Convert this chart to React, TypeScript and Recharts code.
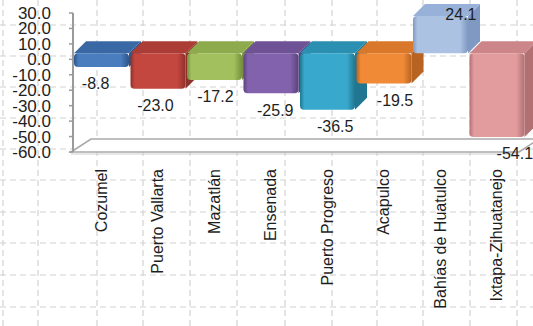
import React from "react";
import { Bar, BarChart, LabelList, XAxis, YAxis } from "recharts";

const PORTS = [
  "Cozumel",
  "Puerto Vallarta",
  "Mazatlán",
  "Ensenada",
  "Puerto Progreso",
  "Acapulco",
  "Bahías de Huatulco",
  "Ixtapa-Zihuatanejo",
];
const CHANGE = [-8.8, -23.0, -17.2, -25.9, -36.5, -19.5, 24.1, -54.1];
const Y_TICKS = [30, 20, 10, 0, -10, -20, -30, -40, -50, -60];

// front, top, side
const COLORS: [string, string, string][] = [
  ["#4a7dbd", "#3a68a4", "#2c5489"],
  ["#c4473f", "#ac3c36", "#8e302b"],
  ["#a2c15e", "#8daa4c", "#76903d"],
  ["#8262ad", "#6f5296", "#5a427c"],
  ["#38a9cc", "#2a8fb1", "#217791"],
  ["#f08a36", "#d9782a", "#b86322"],
  ["#abc2e3", "#97b1d8", "#7f99c2"],
  ["#e29c9e", "#cc8689", "#b27073"],
];

const W = 533;
const H = 326;
const PLOT_LEFT = 73;
const PLOT_RIGHT = 525;
const PLOT_TOP = 13;
const PLOT_BOTTOM = 152;
const DEPTH = 12;
const LIFT = -6;
const FONT = "'Liberation Sans', Arial, sans-serif";

const GRID_X = [3, 38, 97, 143, 190, 237, 285, 332, 377, 423, 470, 517];
const GRID_Y = [25, 56, 87, 118, 149, 180, 212, 243, 275, 307];

const data = PORTS.map((port, i) => ({ port, change: CHANGE[i] }));

function Box3D(props: any) {
  const { x, y, width, height, index } = props;
  const [front, topC, side] = COLORS[index % COLORS.length];
  const top = Math.min(y, y + height) + LIFT;
  const bottom = Math.max(y, y + height) + LIFT;
  const id = `front-${index}`;
  const d = DEPTH;
  return (
    <g>
      <defs>
        <linearGradient id={id} x1="0" y1="0" x2="1" y2="0">
          <stop offset="0" stopColor={side} />
          <stop offset="0.08" stopColor={front} />
          <stop offset="0.85" stopColor={front} />
          <stop offset="1" stopColor={side} />
        </linearGradient>
      </defs>
      <polygon
        points={`${x + width},${top} ${x + width + d},${top - d} ${x + width + d},${bottom - d} ${x + width},${bottom}`}
        fill={side}
      />
      <polygon
        points={`${x},${top} ${x + d},${top - d} ${x + width + d},${top - d} ${x + width},${top}`}
        fill={topC}
      />
      <rect x={x} y={top} width={width} height={Math.max(bottom - top, 1)} rx={4} fill={`url(#${id})`} />
    </g>
  );
}

function ValueLabel(props: any) {
  const { x, y, width, height, value } = props;
  const top = Math.min(y, y + height) + LIFT;
  const bottom = Math.max(y, y + height) + LIFT;
  const cx = x + width / 2;
  const skew = (cx - 200) * 0.06;
  const ly = value >= 0 ? top - 2 : bottom + 17;
  const lx = cx + skew + (value >= 0 ? DEPTH / 2 : 0);
  return (
    <text
      x={lx}
      y={ly}
      textAnchor="middle"
      dominantBaseline="central"
      fontSize={16}
      fontFamily={FONT}
      fill="#1e1e1e"
    >
      {value.toFixed(1)}
    </text>
  );
}

function PortTick(props: any) {
  const { x, y, payload } = props;
  return (
    <text
      x={x}
      y={y}
      transform={`rotate(-90 ${x} ${y})`}
      textAnchor="end"
      dy="0.35em"
      fontSize={16}
      fontFamily={FONT}
      fill="#1e1e1e"
    >
      {payload.value}
    </text>
  );
}

function Backdrop() {
  const fb = PLOT_BOTTOM;
  const left = PLOT_LEFT - 2;
  const dx = 20;
  const dy = 13;
  return (
    <svg width={W} height={H} style={{ position: "absolute", left: 0, top: 0 }}>
      <rect width={W} height={H} fill="#ffffff" />
      {GRID_X.map((gx) => (
        <line key={`x${gx}`} x1={gx} y1={0} x2={gx} y2={H} stroke="#d2d2d2" strokeWidth={1.2} strokeDasharray="6 4" />
      ))}
      {GRID_Y.map((gy) => (
        <line key={`y${gy}`} x1={0} y1={gy} x2={W} y2={gy} stroke="#d2d2d2" strokeWidth={1.2} strokeDasharray="6 4" />
      ))}
      <polygon
        points={`${left},${fb} ${PLOT_RIGHT - 6},${fb} ${PLOT_RIGHT + dx - 6},${fb - dy} ${left + dx},${fb - dy}`}
        fill="#ffffff"
        stroke="#a9a9a9"
        strokeWidth={1.6}
      />
      <line x1={left} y1={fb + 2} x2={PLOT_RIGHT - 6} y2={fb + 2} stroke="#cfcfcf" strokeWidth={1.2} />
    </svg>
  );
}

export default function App() {
  return (
    <div style={{ position: "absolute", left: 0, top: 0, width: W, height: H, background: "#fff" }}>
      <Backdrop />
      <div style={{ position: "absolute", left: 0, top: 0 }}>
        <BarChart
          width={W}
          height={H}
          data={data}
          margin={{ top: PLOT_TOP, right: W - PLOT_RIGHT, bottom: 0, left: 0 }}
          barCategoryGap={1}
        >
          <XAxis
            dataKey="port"
            axisLine={false}
            tickLine={false}
            tickSize={0}
            tickMargin={17}
            interval={0}
            height={H - PLOT_BOTTOM}
            tick={<PortTick />}
          />
          <YAxis
            width={PLOT_LEFT}
            domain={[-60, 30]}
            ticks={Y_TICKS}
            interval={0}
            tickFormatter={(v: number) => v.toFixed(1)}
            axisLine={{ stroke: "#9a9a9a", strokeWidth: 2 }}
            tickLine={{ stroke: "#9a9a9a", strokeWidth: 1.5 }}
            tickSize={4}
            tickMargin={18}
            tick={{ fontSize: 17, fontFamily: FONT, fill: "#1e1e1e" }}
          />
          <Bar dataKey="change" shape={<Box3D />} isAnimationActive={false}>
            <LabelList dataKey="change" content={<ValueLabel />} />
          </Bar>
        </BarChart>
      </div>
    </div>
  );
}
